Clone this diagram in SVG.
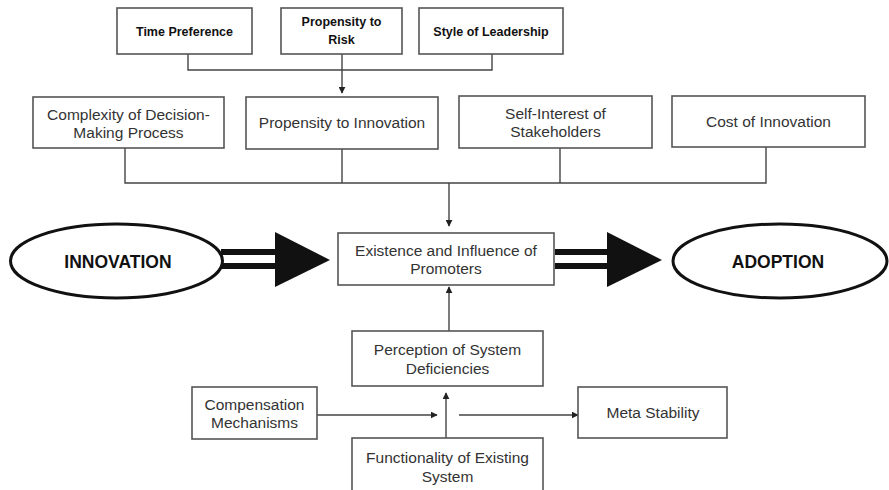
<svg xmlns="http://www.w3.org/2000/svg" width="889" height="490" viewBox="0 0 889 490">
  <style>
    .box { fill: #ffffff; stroke: #555555; stroke-width: 1.6; }
    .lbl { font-family: "Liberation Sans", Arial, sans-serif; font-size: 15.5px; fill: #333333; text-anchor: middle; }
    .top { font-family: "Liberation Sans", Arial, sans-serif; font-size: 12.5px; font-weight: bold; fill: #111111; text-anchor: middle; }
    .big { font-family: "Liberation Sans", Arial, sans-serif; font-size: 17.5px; font-weight: bold; fill: #111111; text-anchor: middle; }
    .oval { fill: #ffffff; stroke: #111111; stroke-width: 3; }
    .wire { fill: none; stroke: #444444; stroke-width: 1.4; }
    .bar { fill: #111111; }
  </style>
  <defs>
    <marker id="arrow" viewBox="0 0 10 10" refX="9" refY="5" markerWidth="7" markerHeight="7" markerUnits="userSpaceOnUse" orient="auto">
      <path d="M0,0 L10,5 L0,10 z" fill="#222222"/>
    </marker>
  </defs>
  <rect width="889" height="490" fill="#ffffff"/>

  <!-- connectors -->
  <g id="connectors">
    <path class="wire" d="M188,54 V70 H492 V54"/>
    <path class="wire" d="M342,54 V93" marker-end="url(#arrow)"/>
    <path class="wire" d="M125,148 V183 H766 V147"/>
    <path class="wire" d="M342,149 V183"/>
    <path class="wire" d="M560,148 V183"/>
    <path class="wire" d="M449,183 V226" marker-end="url(#arrow)"/>
    <path class="wire" d="M449,331 V287" marker-end="url(#arrow)"/>
    <path class="wire" d="M317,415 H437" marker-end="url(#arrow)"/>
    <path class="wire" d="M446,438 V393" marker-end="url(#arrow)"/>
    <path class="wire" d="M459,415 H578" marker-end="url(#arrow)"/>
    <!-- double-shaft block arrows -->
    <rect class="bar" x="221" y="249" width="56" height="6"/>
    <rect class="bar" x="221" y="263" width="56" height="6"/>
    <path class="bar" d="M275,232 L330,260 L275,287 z"/>
    <rect class="bar" x="555" y="249" width="54" height="6"/>
    <rect class="bar" x="555" y="263" width="54" height="6"/>
    <path class="bar" d="M607,232 L662,260 L607,287 z"/>
  </g>

  <g id="time-preference">
    <rect class="box" x="117" y="8" width="135" height="46"/>
    <text class="top" x="184.5" y="36">Time Preference</text>
  </g>
  <g id="propensity-to-risk">
    <rect class="box" x="281" y="8" width="121" height="46"/>
    <text class="top" x="341.5" y="26">Propensity to</text>
    <text class="top" x="341.5" y="44">Risk</text>
  </g>
  <g id="style-of-leadership">
    <rect class="box" x="419" y="8" width="144" height="46"/>
    <text class="top" x="491" y="36">Style of Leadership</text>
  </g>

  <g id="complexity">
    <rect class="box" x="33" y="97" width="191" height="51"/>
    <text class="lbl" x="128.5" y="120">Complexity of Decision-</text>
    <text class="lbl" x="128.5" y="138">Making Process</text>
  </g>
  <g id="propensity-to-innovation">
    <rect class="box" x="246" y="97" width="192" height="52"/>
    <text class="lbl" x="342" y="128">Propensity to Innovation</text>
  </g>
  <g id="self-interest">
    <rect class="box" x="459" y="96" width="193" height="52"/>
    <text class="lbl" x="555.5" y="119">Self-Interest of</text>
    <text class="lbl" x="555.5" y="137">Stakeholders</text>
  </g>
  <g id="cost-of-innovation">
    <rect class="box" x="672" y="96" width="193" height="51"/>
    <text class="lbl" x="768.5" y="127">Cost of Innovation</text>
  </g>

  <g id="innovation">
    <ellipse class="oval" cx="116.5" cy="261" rx="106" ry="37"/>
    <text class="big" x="118" y="268">INNOVATION</text>
  </g>
  <g id="existence-of-promoters">
    <rect class="box" x="338" y="233" width="216" height="52"/>
    <text class="lbl" x="446" y="256">Existence and Influence of</text>
    <text class="lbl" x="446" y="274">Promoters</text>
  </g>
  <g id="adoption">
    <ellipse class="oval" cx="780" cy="261" rx="107" ry="37"/>
    <text class="big" x="778" y="268">ADOPTION</text>
  </g>

  <g id="perception">
    <rect class="box" x="352" y="331" width="191" height="55"/>
    <text class="lbl" x="447.5" y="355">Perception of System</text>
    <text class="lbl" x="447.5" y="374">Deficiencies</text>
  </g>
  <g id="compensation">
    <rect class="box" x="192" y="387" width="125" height="52"/>
    <text class="lbl" x="254.5" y="410">Compensation</text>
    <text class="lbl" x="254.5" y="428">Mechanisms</text>
  </g>
  <g id="meta-stability">
    <rect class="box" x="578" y="387" width="149" height="51"/>
    <text class="lbl" x="653" y="418">Meta Stability</text>
  </g>
  <g id="functionality">
    <rect class="box" x="352" y="438" width="191" height="70"/>
    <text class="lbl" x="447.5" y="463">Functionality of Existing</text>
    <text class="lbl" x="447.5" y="482">System</text>
  </g>
</svg>
